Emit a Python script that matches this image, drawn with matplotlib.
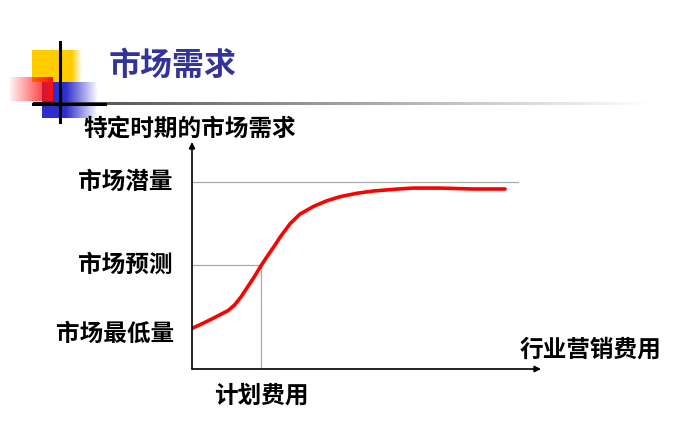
import numpy as np
import matplotlib
matplotlib.use("Agg")
import matplotlib.pyplot as plt
from matplotlib.colors import to_rgb

plt.rcParams['font.family'] = ['Noto Sans CJK SC', 'DejaVu Sans']

# data (axis units: x 0..10, y 0..10)
spend = [0.00, 0.27, 0.55, 0.84, 1.03, 1.22, 1.41, 1.60, 1.80, 1.99, 2.18,
         2.37, 2.52, 2.81, 3.09, 3.48, 3.86, 4.24, 4.72, 5.19, 5.91, 6.33,
         7.11, 8.05, 8.97]
demand = [1.79, 1.98, 2.19, 2.42, 2.57, 2.82, 3.19, 3.63, 4.10, 4.58, 5.02,
          5.44, 5.80, 6.40, 6.82, 7.16, 7.41, 7.59, 7.74, 7.84, 7.93, 7.97,
          7.97, 7.93, 7.93]
potential = 8.22
forecast = 4.58
planned = 1.98
minimum = 1.81

title = "市场需求"
y_title = "特定时期的市场需求"
x_title = "行业营销费用"
lbl_potential = "市场潜量"
lbl_forecast = "市场预测"
lbl_minimum = "市场最低量"
lbl_plan = "计划费用"

fig = plt.figure(figsize=(7, 4.32), dpi=100)

# --- decoration layer in pixel coordinates ---
deco = fig.add_axes([0, 0, 1, 1])
deco.set_xlim(0, 700)
deco.set_ylim(432, 0)
deco.axis('off')


def grad_rect(ax, x0, x1, y0, y1, color, alpha_x, z):
    n = 200
    xs = np.linspace(x0, x1, n)
    a = np.interp(xs, alpha_x[0], alpha_x[1])
    img = np.zeros((2, n, 4))
    img[..., :3] = to_rgb(color)
    img[..., 3] = a
    ax.imshow(img, extent=(x0, x1, y1, y0), aspect='auto', zorder=z,
              interpolation='bilinear')


grad_rect(deco, 32, 82, 50, 82, '#FFCC00', ([32, 72, 82], [1, 1, 0]), 1)
grad_rect(deco, 42, 98, 82, 118, '#2E2ECC', ([42, 66, 98], [1, 1, 0]), 2)
grad_rect(deco, 10, 53, 77, 101, '#FF1010', ([10, 53], [0.05, 1]), 3)

# horizontal rule fading to the right
n = 300
xs = np.linspace(33, 650, n)
shade = np.interp(xs, [33, 110, 400, 650], [0.05, 0.35, 0.7, 1.0])
strip = np.zeros((2, n, 3))
strip[..., :] = shade[None, :, None]
deco.imshow(strip, extent=(33, 650, 105.5, 102.5), aspect='auto', zorder=4,
            interpolation='bilinear')
deco.plot([60, 60], [42, 122], color='black', lw=2.2, zorder=5)
deco.plot([33, 105], [104, 104], color='black', lw=2.2, zorder=5)

deco.text(109, 66, title, color='#333399', fontsize=23, fontweight='bold',
          va='center', ha='left', zorder=6)

# --- chart ---
ax = fig.add_axes([192 / 700, 63 / 432, 349 / 700, 227 / 432])
ax.patch.set_alpha(0)
ax.set_xlim(0, 10)
ax.set_ylim(0, 10)
ax.axis('off')

ax.annotate('', xy=(10, 0), xytext=(0, 0),
            arrowprops=dict(arrowstyle='-|>', color='black', lw=1.2,
                            mutation_scale=9, shrinkA=0, shrinkB=0))
ax.annotate('', xy=(0, 10), xytext=(0, 0),
            arrowprops=dict(arrowstyle='-|>', color='black', lw=1.2,
                            mutation_scale=9, shrinkA=0, shrinkB=0))

ax.plot([0, 9.35], [potential, potential], color='#aaaaaa', lw=0.9)
ax.plot([0, planned], [forecast, forecast], color='#aaaaaa', lw=0.9)
ax.plot([planned, planned], [0, forecast], color='#aaaaaa', lw=0.9)

ax.plot(spend, demand, color='#ff0000', lw=2.6, solid_joinstyle='round',
        solid_capstyle='round')

fs = 17
ax.text(-0.57, potential, lbl_potential, ha='right', va='center', fontsize=fs,
        fontweight='bold')
ax.text(-0.57, forecast, lbl_forecast, ha='right', va='center', fontsize=fs,
        fontweight='bold')
ax.text(-0.5, minimum - 0.25, lbl_minimum, ha='right', va='center', fontsize=fs,
        fontweight='bold')
ax.text(planned, -1.15, lbl_plan, ha='center', va='center', fontsize=fs,
        fontweight='bold')
ax.text(9.4, 0.84, x_title, ha='left', va='center', fontsize=fs,
        fontweight='bold')
ax.text(-3.12, 10.6, y_title, ha='left', va='center', fontsize=fs,
        fontweight='bold')

fig.savefig('out.png', dpi=100)
